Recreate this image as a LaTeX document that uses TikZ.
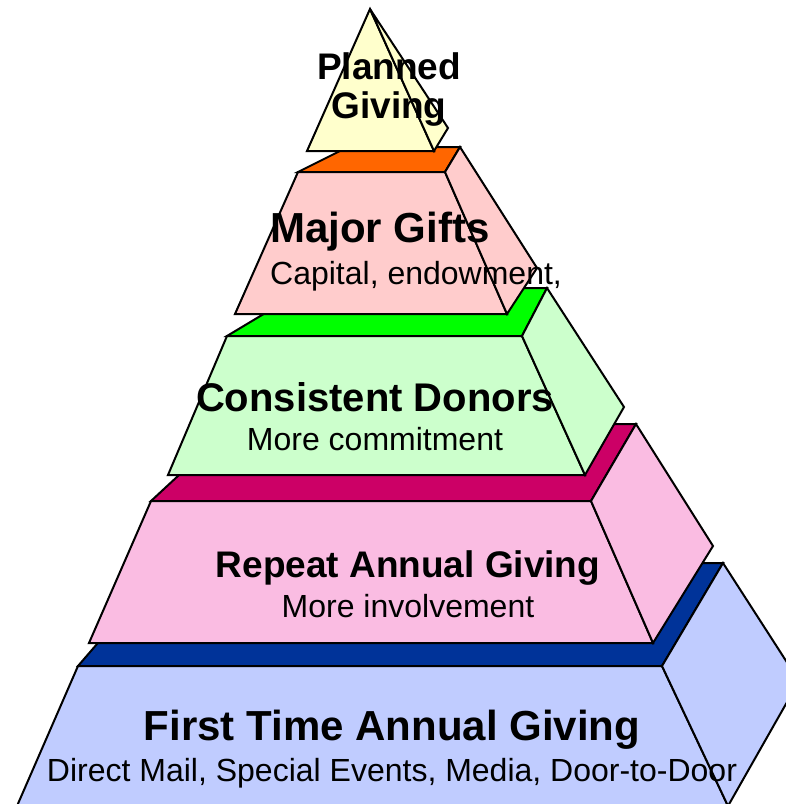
\documentclass[tikz,border=0pt]{standalone}
\usepackage{fontspec}
\setmainfont{Liberation Sans}
\usepackage{tikz}
\definecolor{pyramidyellow}{RGB}{255, 255, 204}
\definecolor{majorpink}{RGB}{255, 204, 204}
\definecolor{majororange}{RGB}{255, 102, 0}
\definecolor{donorgreen}{RGB}{204, 255, 204}
\definecolor{brightgreen}{RGB}{0, 255, 0}
\definecolor{repeatpink}{RGB}{250, 188, 226}
\definecolor{repeatcrimson}{RGB}{204, 0, 102}
\definecolor{firstblue}{RGB}{192, 204, 255}
\definecolor{firstnavy}{RGB}{0, 51, 153}

\begin{document}
\begin{tikzpicture}[
    x=1pt, y=-1pt,
    face/.style={
        draw=black,
        line width=2pt
    },
    title/.style={
        anchor=base,
        inner sep=0pt,
        font=\bfseries\fontsize{#1}{#1}\selectfont
    },
    title/.default=40,
    subtitle/.style={anchor=base, inner sep=0pt, font=\fontsize{32}{36}\selectfont}
]
    \useasboundingbox (0,0) rectangle (786,804);
    \clip (0,0) rectangle (786,804);

    % First Time Annual Giving
    \filldraw[face, fill=firstnavy] (78,666) -- (167,563) -- (723,563) -- (662,666) -- cycle;
    \filldraw[face, fill=firstblue] (78,666) -- (662,666) -- (728,806) -- (17,806) -- cycle;
    \filldraw[face, fill=firstblue] (662,666) -- (723,563) -- (799,681) -- (728,806) -- cycle;

    % Repeat Annual Giving
    \filldraw[face, fill=repeatcrimson] (151,501) -- (234,424) -- (636,424) -- (591,501) -- cycle;
    \filldraw[face, fill=repeatpink] (151,501) -- (591,501) -- (653,643) -- (89,643) -- cycle;
    \filldraw[face, fill=repeatpink] (591,501) -- (636,424) -- (713,546) -- (653,643) -- cycle;

    % Consistent Donors
    \filldraw[face, fill=brightgreen] (227,336) -- (307,288) -- (547,288) -- (522,336) -- cycle;
    \filldraw[face, fill=donorgreen] (227,336) -- (522,336) -- (585,475) -- (168,475) -- cycle;
    \filldraw[face, fill=donorgreen] (522,336) -- (547,288) -- (624,407) -- (585,475) -- cycle;

    % Major Gifts
    \filldraw[face, fill=majororange] (298,172) -- (348,147) -- (460,147) -- (445,172) -- cycle;
    \filldraw[face, fill=majorpink] (298,172) -- (445,172) -- (507,314) -- (235,314) -- cycle;
    \filldraw[face, fill=majorpink] (445,172) -- (460,147) -- (537,268) -- (507,314) -- cycle;

    % Planned Giving
    \filldraw[face, fill=pyramidyellow] (370,9) -- (434,151) -- (307,151) -- cycle;
    \filldraw[face, fill=pyramidyellow] (370,9) -- (448,128) -- (434,151) -- cycle;

    % Labels
    \node[title=37] (planned) at (389,79) {Planned};
    \node[title=37] (giving) at (389,118) {Giving};
    \node[title=42, anchor=base west] (major) at (270,242) {Major Gifts};
    \node[subtitle, anchor=base west] (capital) at (270,284) {Capital, endowment,};
    \node[title] (consistent) at (375,411) {Consistent Donors};
    \node[subtitle] (commitment) at (375,450) {More commitment};
    \node[title=37] (repeat) at (408,577) {Repeat Annual Giving};
    \node[subtitle] (involvement) at (408,617) {More involvement};
    \node[title=42] (first) at (392,740) {First Time Annual Giving};
    \node[subtitle] (direct) at (392,781) {Direct Mail, Special Events, Media, Door-to-Door};
\end{tikzpicture}
\end{document}
